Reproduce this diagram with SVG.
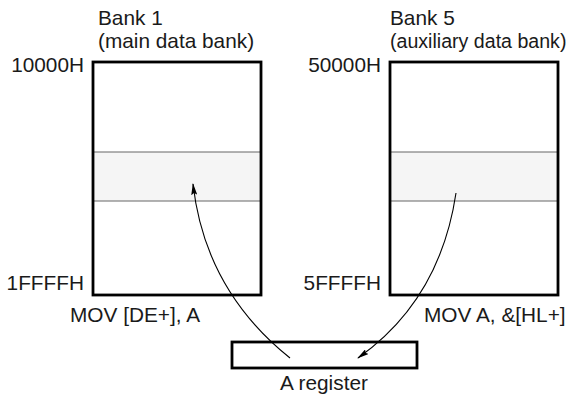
<svg xmlns="http://www.w3.org/2000/svg" width="572" height="395" viewBox="0 0 572 395">
<style>
text{font-family:"Liberation Sans",Arial,sans-serif;font-size:20.8px;fill:#1a1a1a}
.box{fill:none;stroke:#000;stroke-width:2.8}
.band{fill:#f5f5f5;stroke:#666;stroke-width:1}
.r{text-anchor:end}
.arr{fill:none;stroke:#000;stroke-width:1.1;marker-end:url(#ah)}
</style>
<defs>
<marker id="ah" viewBox="0 0 12 6" refX="11" refY="3" markerWidth="12" markerHeight="6" markerUnits="userSpaceOnUse" orient="auto">
<path d="M0,0 L12,3 L0,6 L2,3 Z" fill="#000"/>
</marker>
</defs>
<rect x="0" y="0" width="572" height="395" fill="#fff"/>
<g id="bank1">
<rect x="93" y="62" width="168" height="233" fill="#fff"/>
<rect class="band" x="93" y="152" width="168" height="49"/>
<rect class="box" x="93" y="62" width="168" height="233"/>
<text x="98" y="25">Bank 1</text>
<text x="98" y="48">(main data bank)</text>
<text class="r" x="84" y="72">10000H</text>
<text class="r" x="84" y="290">1FFFFH</text>
<text x="70" y="322">MOV [DE+], A</text>
</g>
<g id="bank5">
<rect x="390" y="62" width="168" height="233" fill="#fff"/>
<rect class="band" x="390" y="152" width="168" height="49"/>
<rect class="box" x="390" y="62" width="168" height="233"/>
<text x="390" y="25">Bank 5</text>
<text x="390" y="48" style="font-size:19.6px">(auxiliary data bank)</text>
<text class="r" x="381" y="72">50000H</text>
<text class="r" x="381" y="290">5FFFFH</text>
<text x="424" y="322">MOV A, &amp;[HL+]</text>
</g>
<g id="areg">
<rect class="box" x="232" y="342" width="185" height="26" fill="#fff"/>
<text x="324" y="390" text-anchor="middle">A register</text>
</g>
<g id="connectors">
<path class="arr" d="M290,358 Q205,290 193,184"/>
<path class="arr" d="M456,193 Q440,300 358,358"/>
</g>
</svg>
